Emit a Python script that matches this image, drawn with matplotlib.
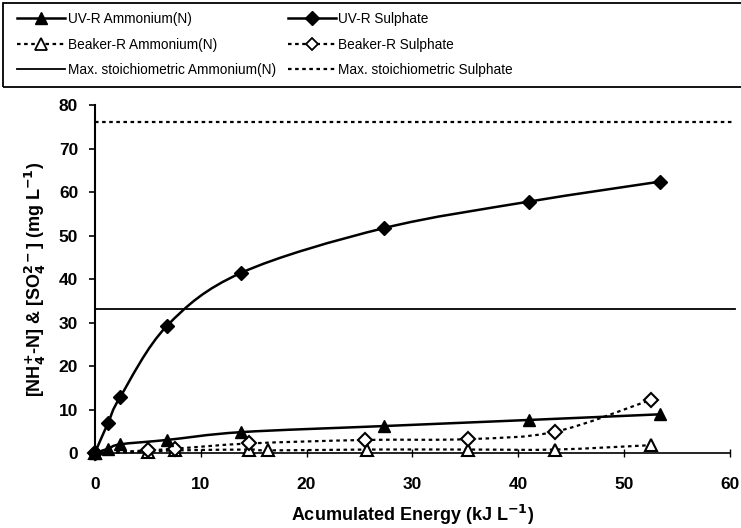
import numpy as np
import matplotlib
matplotlib.use("Agg")
import matplotlib.pyplot as plt
from matplotlib.path import Path
from matplotlib.patches import PathPatch, Rectangle
from matplotlib.lines import Line2D

plt.rcParams['font.family'] = ['Liberation Sans', 'DejaVu Sans']

# ---- data ----
uv_x = [0, 1.26, 2.4, 6.8, 13.8, 27.3, 41.0, 53.4]
uv_sulphate = [0, 7.0, 12.9, 29.2, 41.4, 51.7, 57.8, 62.4]
uv_ammonium = [0, 1.0, 2.0, 3.0, 4.8, 6.2, 7.6, 8.9]

bk_s_x = [0, 5.0, 7.6, 14.6, 25.5, 35.3, 43.5, 52.5]
bk_sulphate = [0, 0.6, 1.0, 2.2, 3.0, 3.2, 4.9, 12.2]

bk_a_x = [0, 5.0, 7.6, 14.6, 16.4, 25.7, 35.3, 43.5, 52.5]
bk_ammonium = [0, 0.3, 0.6, 0.8, 0.6, 0.8, 0.8, 0.8, 1.8]

max_ammonium = 33.2
max_sulphate = 76.0

x_ticks = [0, 10, 20, 30, 40, 50, 60]
y_ticks = [0, 10, 20, 30, 40, 50, 60, 70, 80]


def smooth_path(x, y):
    pts = np.column_stack([x, y]).astype(float)
    n = len(pts)
    verts = [pts[0]]
    codes = [Path.MOVETO]
    for i in range(n - 1):
        p0 = pts[i - 1] if i > 0 else pts[i]
        p1 = pts[i]
        p2 = pts[i + 1]
        p3 = pts[i + 2] if i + 2 < n else pts[i + 1]
        c1 = p1 + (p2 - p0) / 6.0
        c2 = p2 - (p3 - p1) / 6.0
        verts += [c1, c2, p2]
        codes += [Path.CURVE4] * 3
    return Path(verts, codes)


fig = plt.figure(figsize=(7.41, 5.28), dpi=100)
ax = fig.add_axes([0.128, 0.142, 0.857, 0.659])

dot = (0, (1.6, 1.6))

# horizontal limits
ax.plot([0, 60.5], [max_ammonium] * 2, color='black', lw=1.3, clip_on=False)
ax.plot([0, 60.5], [max_sulphate] * 2, color='black', lw=1.6, ls=dot, clip_on=False)

# smoothed series lines
series = [
    (uv_x, uv_sulphate, '-', 1.8),
    (uv_x, uv_ammonium, '-', 1.8),
    (bk_s_x, bk_sulphate, dot, 1.6),
    (bk_a_x, bk_ammonium, dot, 1.6),
]
for sx, sy, ls, lw in series:
    ax.add_patch(PathPatch(smooth_path(sx, sy), fill=False, edgecolor='black',
                           lw=lw, ls=ls, clip_on=False))

# markers
ax.plot(bk_a_x, bk_ammonium, ls='none', marker='^', ms=9, mfc='white', mec='black',
        mew=1.5, clip_on=False, zorder=4)
ax.plot(bk_s_x, bk_sulphate, ls='none', marker='D', ms=7.5, mfc='white', mec='black',
        mew=1.5, clip_on=False, zorder=4)
ax.plot(uv_x, uv_ammonium, ls='none', marker='^', ms=9, mfc='black', mec='black',
        clip_on=False, zorder=5)
ax.plot(uv_x, uv_sulphate, ls='none', marker='D', ms=7.5, mfc='black', mec='black',
        clip_on=False, zorder=5)

ax.set_xlim(0, 60)
ax.set_ylim(0, 80)
ax.set_xticks(x_ticks)
ax.set_yticks(y_ticks)
for s in ['top', 'right']:
    ax.spines[s].set_visible(False)
ax.spines['left'].set_linewidth(1.5)
ax.spines['bottom'].set_linewidth(1.2)
ax.tick_params(axis='y', direction='out', length=4, width=1.2, pad=8, labelsize=12.5)
ax.tick_params(axis='x', direction='inout', length=6, width=1.0, pad=14, labelsize=12.5)
for lab in ax.get_xticklabels() + ax.get_yticklabels():
    lab.set_fontweight('bold')

ax.set_xlabel('Acumulated Energy (kJ L$^{\\mathbf{-1}}$)', fontsize=13, fontweight='bold',
              labelpad=8)
ax.set_ylabel('[NH$_{\\mathbf{4}}^{\\mathbf{+}}$-N] & [SO$_{\\mathbf{4}}^{\\mathbf{2-}}$] (mg L$^{\\mathbf{-1}}$)',
              fontsize=13, fontweight='bold', labelpad=8)

# legend
handles = [
    Line2D([], [], color='black', lw=1.8, marker='^', ms=8, mfc='black'),
    Line2D([], [], color='black', lw=1.6, ls=dot, marker='^', ms=8, mfc='white', mew=1.3),
    Line2D([], [], color='black', lw=1.3),
    Line2D([], [], color='black', lw=1.8, marker='D', ms=7, mfc='black'),
    Line2D([], [], color='black', lw=1.6, ls=dot, marker='D', ms=6.5, mfc='white', mew=1.3),
    Line2D([], [], color='black', lw=1.6, ls=dot),
]
labels = ['UV-R Ammonium(N)', 'Beaker-R Ammonium(N)', 'Max. stoichiometric Ammonium(N)',
          'UV-R Sulphate', 'Beaker-R Sulphate', 'Max. stoichiometric Sulphate']
fig.legend(handles, labels, loc='upper left', bbox_to_anchor=(0.014, 0.99), ncol=2,
           frameon=False, fontsize=9.8, handlelength=3.5, handletextpad=0.2,
           labelspacing=0.85, columnspacing=0.9, borderpad=0, numpoints=1)
fig.add_artist(Rectangle((3 / 741, (528 - 87) / 528), 0.999, 84 / 528,
                         transform=fig.transFigure, fill=False, lw=1.3, edgecolor='black'))

fig.savefig('out.png', dpi=100)
